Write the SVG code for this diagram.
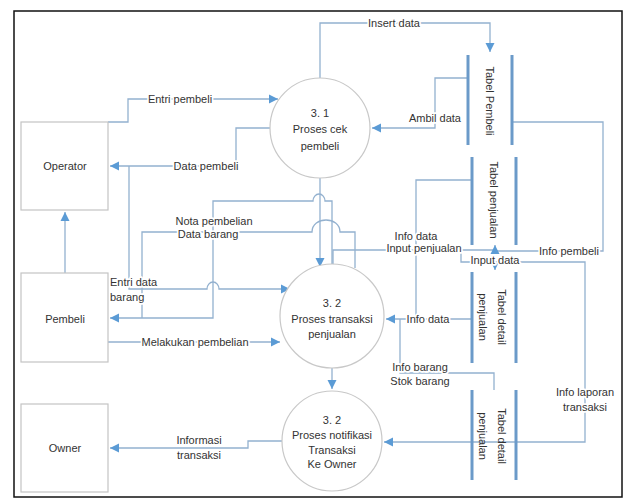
<svg xmlns="http://www.w3.org/2000/svg" width="625" height="498" viewBox="0 0 625 498">
<defs>
<marker id="ah" markerWidth="10" markerHeight="10" refX="9" refY="5" orient="auto" markerUnits="userSpaceOnUse">
<path d="M0,0.5 L9,5 L0,9.5 Z" fill="#5b9bd5"/>
</marker>
<style>
.bg{fill:#fff}
.frame{fill:none;stroke:#111;stroke-width:1.5}
.box{fill:#fff;stroke:#c4c4c4;stroke-width:1.2}
.proc{fill:#fff;stroke:#c8c8c8;stroke-width:1.2}
.store{stroke:#6b9ac9;stroke-width:3;fill:none}
.c{fill:none;stroke:#93b1cf;stroke-width:1.3}
.a{marker-end:url(#ah)}
text{font-family:"Liberation Sans",Arial,sans-serif;font-size:11px;fill:#333}
.lb{text-anchor:middle;stroke:#fff;stroke-width:3.5;paint-order:stroke;stroke-linejoin:round}
.ll{stroke:#fff;stroke-width:3.5;paint-order:stroke;stroke-linejoin:round}
.t{text-anchor:middle}
</style>
</defs>
<rect class="bg" x="0" y="0" width="625" height="498"/>
<rect class="frame" x="14" y="11" width="608" height="486"/>

<g id="connectors">
<path class="c a" d="M320,78 V23 H490 V52"/>
<path class="c a" d="M108,122 H128 V99 H278"/>
<path class="c a" d="M270,128 H236 V166 H110"/>
<path class="c a" d="M467,78 H435 V128 H372"/>
<path class="c" d="M512,122 H603 V251 H495"/>
<path class="c a" d="M320,178 V267"/>
<path class="c a" d="M65,273 V212"/>
<path class="c a" d="M332,264 V201 H325 A6,7 0 0 0 313,201 H213 V318 H110"/>
<path class="c" d="M355,268 V232 H340 C340,216 312,216 312,232 H142 V318"/>
<path class="c a" d="M129,166 V289 H207 A6,7 0 0 1 219,289 H290"/>
<path class="c a" d="M108,342 H280"/>
<path class="c a" d="M333,266 V250 H495 V245"/>
<path class="c a" d="M461,250 V262 H495 V270"/>
<path class="c a" d="M495,262 H585 V442 H384"/>
<path class="c" d="M472,180 H416 V319"/>
<path class="c a" d="M472,319 H386"/>
<path class="c" d="M494,390 V373 H400 V319"/>
<path class="c a" d="M332,368 V389"/>
<path class="c a" d="M282,441 H248 V448 H110"/>
<text class="lb" x="394" y="27">Insert data</text>
<text class="lb" x="180" y="103">Entri pembeli</text>
<text class="lb" x="206" y="170">Data pembeli</text>
<text class="lb" x="435" y="122">Ambil data</text>
<text class="lb" x="214" y="225">Nota pembelian</text>
<text class="lb" x="208" y="238">Data barang</text>
<text class="ll" x="110" y="286">Entri data</text>
<text class="ll" x="110" y="301">barang</text>
<text class="lb" x="195" y="346">Melakukan pembelian</text>
<text class="lb" x="199" y="444">Informasi</text>
<text class="lb" x="199" y="459">transaksi</text>
<text class="lb" x="416" y="240">Info data</text>
<text class="lb" x="424" y="252">Input penjualan</text>
<text class="lb" x="495" y="264">Input data</text>
<text class="lb" x="569" y="255">Info pembeli</text>
<text class="lb" x="428" y="323">Info data</text>
<text class="lb" x="420" y="371">Info barang</text>
<text class="lb" x="420" y="385">Stok barang</text>
<text class="lb" x="585" y="396">Info laporan</text>
<text class="lb" x="585" y="411">transaksi</text>
</g>

<g id="operator">
<rect class="box" x="21" y="122" width="87" height="88"/>
<text class="t" x="65" y="170">Operator</text>
</g>
<g id="pembeli">
<rect class="box" x="21" y="273" width="87" height="89"/>
<text class="t" x="65" y="323">Pembeli</text>
</g>
<g id="owner">
<rect class="box" x="21" y="404" width="87" height="88"/>
<text class="t" x="65" y="452">Owner</text>
</g>

<g id="p31">
<circle class="proc" cx="320" cy="128" r="50"/>
<text class="t" x="320" y="117">3. 1</text>
<text class="t" x="320" y="133">Proses cek</text>
<text class="t" x="320" y="150">pembeli</text>
</g>
<g id="p32">
<circle class="proc" cx="332" cy="316" r="52"/>
<text class="t" x="332" y="307">3. 2</text>
<text class="t" x="332" y="323">Proses transaksi</text>
<text class="t" x="332" y="338">penjualan</text>
</g>
<g id="p32b">
<circle class="proc" cx="332" cy="441" r="50"/>
<text class="t" x="332" y="424">3. 2</text>
<text class="t" x="332" y="439">Proses notifikasi</text>
<text class="t" x="332" y="454">Transaksi</text>
<text class="t" x="332" y="468">Ke Owner</text>
</g>

<g id="tabel-pembeli">
<line class="store" x1="468" y1="55" x2="468" y2="145"/>
<line class="store" x1="512" y1="55" x2="512" y2="145"/>
<text class="t" transform="translate(490,101) rotate(90)" dy="4">Tabel Pembeli</text>
</g>
<g id="tabel-penjualan">
<line class="store" x1="472" y1="157" x2="472" y2="245"/>
<line class="store" x1="516" y1="157" x2="516" y2="245"/>
<text class="t" transform="translate(494,200) rotate(90)" dy="4">Tabel penjualan</text>
</g>
<g id="tabel-detail-1">
<line class="store" x1="472" y1="272" x2="472" y2="363"/>
<line class="store" x1="516" y1="272" x2="516" y2="363"/>
<text class="t" transform="translate(502,317) rotate(90)" dy="4">Tabel detail</text>
<text class="t" transform="translate(483,317) rotate(90)" dy="4">penjualan</text>
</g>
<g id="tabel-detail-2">
<line class="store" x1="472" y1="390" x2="472" y2="480"/>
<line class="store" x1="516" y1="390" x2="516" y2="480"/>
<text class="t" transform="translate(502,436) rotate(90)" dy="4">Tabel detail</text>
<text class="t" transform="translate(483,436) rotate(90)" dy="4">penjualan</text>
</g>
</svg>
